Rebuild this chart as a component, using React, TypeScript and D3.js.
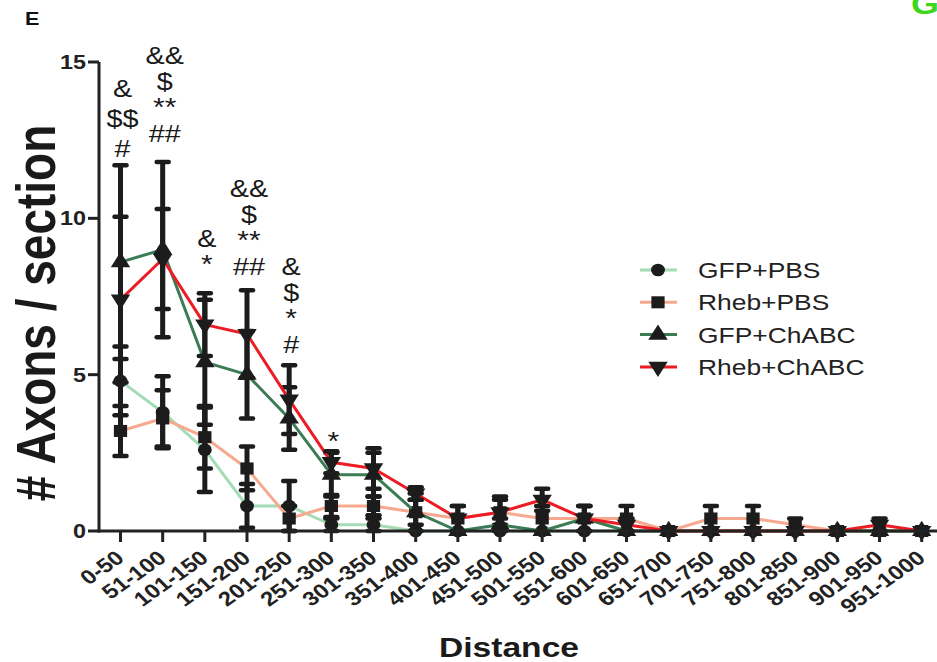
import React from "react";
import * as d3 from "d3";

const categories = [
  "0-50", "51-100", "101-150", "151-200", "201-250", "251-300", "301-350",
  "351-400", "401-450", "451-500", "501-550", "551-600", "601-650", "651-700",
  "701-750", "751-800", "801-850", "851-900", "901-950", "951-1000",
];

const seriesNames = ["GFP+PBS", "Rheb+PBS", "GFP+ChABC", "Rheb+ChABC"];

const gfpPbs = [4.8, 3.8, 2.6, 0.8, 0.8, 0.2, 0.2, 0, 0, 0, 0, 0, 0, 0, 0, 0, 0, 0, 0, 0];
const gfpPbsErr = [1.1, 1.15, 1.35, 0.7, 0.8, 0.2, 0.2, 0, 0, 0, 0, 0, 0, 0, 0, 0, 0, 0, 0, 0];
const rhebPbs = [3.2, 3.6, 3.0, 2.0, 0.4, 0.8, 0.8, 0.6, 0.4, 0.6, 0.4, 0.4, 0.4, 0, 0.4, 0.4, 0.2, 0, 0, 0];
const rhebPbsErr = [0.8, 0.9, 1.0, 0.7, 0.4, 0.35, 0.3, 0.4, 0.4, 0.4, 0.4, 0.4, 0.4, 0, 0.4, 0.4, 0.2, 0, 0, 0];
const gfpChabc = [8.6, 9.0, 5.4, 5.0, 3.6, 1.8, 1.8, 0.6, 0, 0.2, 0, 0.4, 0, 0, 0, 0, 0, 0, 0, 0];
const gfpChabcErr = [3.1, 2.8, 2.0, 1.4, 1.0, 0.7, 0.7, 0.6, 0, 0.2, 0, 0.4, 0, 0, 0, 0, 0, 0, 0, 0];
const rhebChabc = [7.4, 8.7, 6.6, 6.3, 4.2, 2.2, 2.0, 1.2, 0.4, 0.6, 1.0, 0.4, 0.2, 0, 0, 0, 0, 0, 0.2, 0];
const rhebChabcErr = [2.65, 1.6, 1.0, 1.4, 1.1, 0.35, 0.65, 0.2, 0.4, 0.5, 0.35, 0.4, 0.2, 0, 0, 0, 0, 0, 0.2, 0];

const yTicks = [0, 5, 10, 15];

// significance marks: category, lines (top to bottom), value level of the lowest line's baseline
const annotCats = ["0-50", "51-100", "101-150", "151-200", "201-250", "251-300"];
const annotLines = [
  ["&", "$$", "#"],
  ["&&", "$", "**", "##"],
  ["&", "*"],
  ["&&", "$", "**", "##"],
  ["&", "$", "*", "#"],
  ["*"],
];
const annotLevels = [11.96, 12.44, 8.25, 8.19, 5.69, 2.6];

const W = 937;
const H = 662;
const FONT = "'Liberation Sans', Arial, Helvetica, sans-serif";
const SX = 1.2;
const INK = "#1c1c1c";

const colors = ["#a4dcb6", "#f6a98e", "#3b7c55", "#ec1c24"];
const shapes = ["circle", "square", "up", "down"];

function Marker({ shape, x, y }: { shape: string; x: number; y: number }) {
  let sym: any = d3.symbolCircle;
  let size = 125;
  let rot = 0;
  if (shape === "square") { sym = d3.symbolSquare; size = 145; }
  if (shape === "up") { sym = d3.symbolTriangle; size = 135; }
  if (shape === "down") { sym = d3.symbolTriangle; size = 135; rot = 180; }
  const d = d3.symbol().type(sym).size(size)() as string;
  return (
    <path
      d={d}
      transform={`translate(${x},${y}) scale(${1.1},1) rotate(${rot})`}
      fill={INK}
    />
  );
}

function T(props: {
  x: number; y: number; size: number; weight?: string; anchor?: string;
  rot?: number; fill?: string; children: any;
}) {
  const { x, y, size, weight = "normal", anchor = "start", rot, fill = "#222", children } = props;
  return (
    <text
      transform={`translate(${x},${y}) scale(${SX},1)${rot !== undefined ? ` rotate(${rot})` : ""}`}
      fontSize={size}
      fontWeight={weight}
      textAnchor={anchor}
      fontFamily={FONT}
      fill={fill}
    >
      {children}
    </text>
  );
}

export default function App() {
  const x = d3.scalePoint<string>().domain(categories).range([120.5, 921.7]);
  const y = d3.scaleLinear().domain([0, 15]).range([531, 62]);

  const means = [gfpPbs, rhebPbs, gfpChabc, rhebChabc];
  const errs = [gfpPbsErr, rhebPbsErr, gfpChabcErr, rhebChabcErr];

  const line = d3
    .line<number>()
    .x((_, i) => x(categories[i]) as number)
    .y((v) => y(v));

  const axisX0 = 99;

  return (
    <svg
      width={W}
      height={H}
      viewBox={`0 0 ${W} ${H}`}
      style={{ position: "absolute", left: 0, top: 0, background: "#fff" }}
    >
      <rect x={0} y={0} width={W} height={H} fill="#fff" />

      {/* panel letters */}
      <T x={25} y={25} size={18} weight="bold" fill="#111">E</T>
      <T x={911} y={14} size={30} weight="bold" fill="#3ed61a">G</T>

      {/* series */}
      {means.map((vals, s) => (
        <g key={seriesNames[s]}>
          <path d={line(vals) as string} fill="none" stroke={colors[s]} strokeWidth={3} strokeLinejoin="round" />
          {vals.map((v, i) => {
            const e = errs[s][i];
            if (!e) return null;
            const cx = x(categories[i]) as number;
            const hi = y(v + e);
            const lo = y(Math.max(0, v - e));
            return (
              <g key={i} stroke={INK}>
                <line x1={cx} x2={cx} y1={hi} y2={lo} strokeWidth={5} />
                <line x1={cx - 6} x2={cx + 6} y1={hi} y2={hi} strokeWidth={4.5} strokeLinecap="round" />
                <line x1={cx - 6} x2={cx + 6} y1={lo} y2={lo} strokeWidth={4.5} strokeLinecap="round" />
              </g>
            );
          })}
          {vals.map((v, i) => (
            <Marker key={"m" + i} shape={shapes[s]} x={x(categories[i]) as number} y={y(v)} />
          ))}
        </g>
      ))}

      {/* axes */}
      <line x1={axisX0} x2={axisX0} y1={y(15)} y2={y(0) + 1.5} stroke="#222" strokeWidth={3} />
      <line x1={axisX0 - 1.5} x2={W} y1={y(0)} y2={y(0)} stroke="#222" strokeWidth={3} />
      {yTicks.map((t) => (
        <g key={t}>
          <line x1={axisX0 - 11} x2={axisX0} y1={y(t)} y2={y(t)} stroke="#222" strokeWidth={3} />
          <T x={axisX0 - 13} y={y(t) + 7} size={19.5} weight="bold" anchor="end">{t}</T>
        </g>
      ))}
      {categories.map((c) => (
        <g key={c}>
          <line x1={x(c) as number} x2={x(c) as number} y1={y(0)} y2={y(0) + 11} stroke="#222" strokeWidth={3} />
          <T x={(x(c) as number) + 5} y={560} size={20} weight="bold" anchor="end" rot={-40}>{c}</T>
        </g>
      ))}

      {/* significance marks */}
      {annotCats.map((c, k) => {
        const lines = annotLines[k];
        const base = y(annotLevels[k]);
        const step = k === 0 ? 30 : 26;
        return (
          <g key={"a" + c}>
            {lines.map((txt, j) => {
              const star = txt.startsWith("*");
              return (
                <T
                  key={j}
                  x={(x(c) as number) + 2}
                  y={base - (lines.length - 1 - j) * step}
                  size={star ? 25 : 24}
                  anchor="middle"
                  fill="#1a1a1a"
                >
                  {txt}
                </T>
              );
            })}
          </g>
        );
      })}

      {/* axis titles */}
      <T x={55} y={313} size={46} weight="bold" anchor="middle" rot={-90} fill="#1a1a1a"># Axons / section</T>
      <T x={509} y={657} size={28} weight="bold" anchor="middle" fill="#1a1a1a">Distance</T>

      {/* legend */}
      {seriesNames.map((n, s) => {
        const ly = 270 + s * 32.3;
        return (
          <g key={"l" + n}>
            <line x1={640} x2={677} y1={ly} y2={ly} stroke={colors[s]} strokeWidth={3} />
            <Marker shape={shapes[s]} x={658} y={ly} />
            <T x={698} y={ly + 8} size={22} fill="#222">{n}</T>
          </g>
        );
      })}
    </svg>
  );
}
